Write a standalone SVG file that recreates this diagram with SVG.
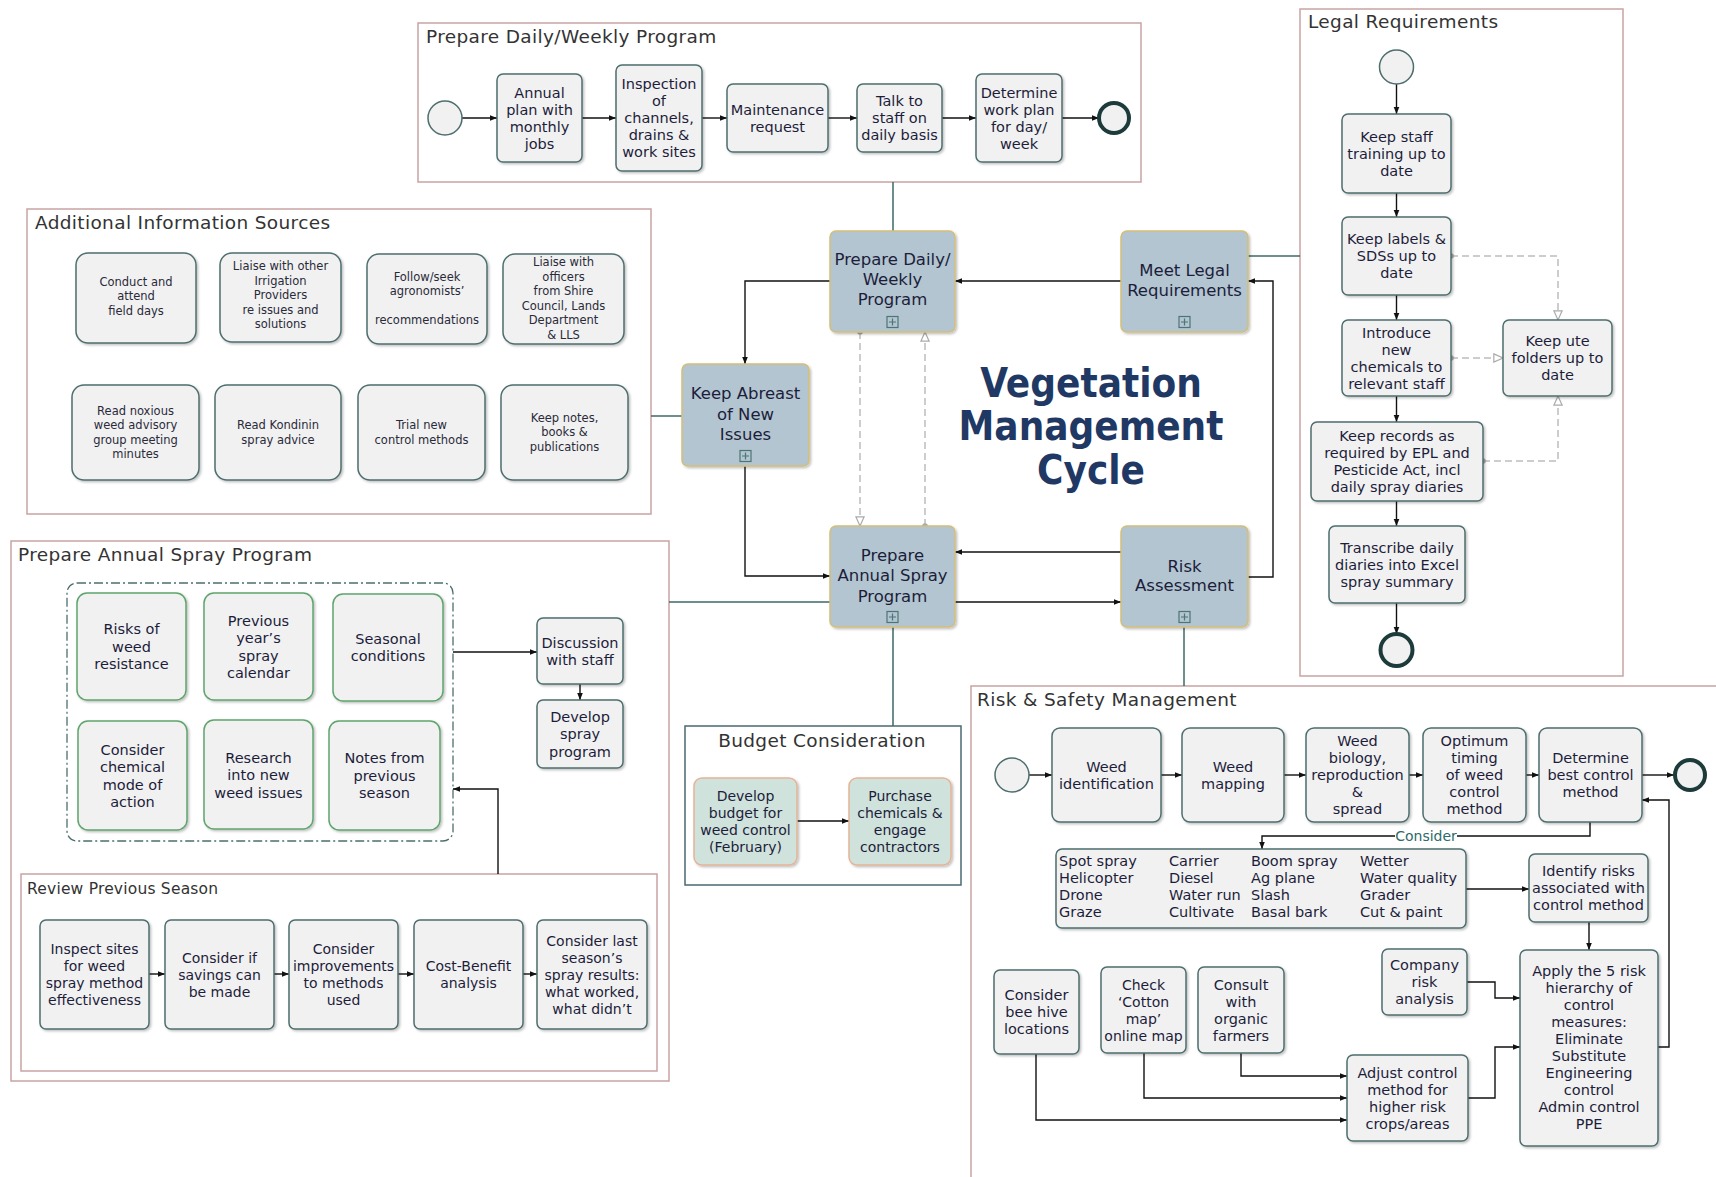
<svg xmlns="http://www.w3.org/2000/svg" width="1716" height="1177" viewBox="0 0 1716 1177">
<style>
.pool{fill:#fff;stroke:#c9a3a3;stroke-width:1.5}
.task{fill:#f1f1f1;stroke:#4e6e6e;stroke-width:1.5;filter:url(#sh)}
.green{fill:#f1f1f1;stroke:#5fa46c;stroke-width:1.5;filter:url(#sh)}
.main{fill:#b2c5d0;stroke:#d4be78;stroke-width:1.5;filter:url(#sh)}
.bud{fill:#d0e2dc;stroke:#e5b497;stroke-width:1.5;filter:url(#sh)}
.start{fill:#f1f1f1;stroke:#4e6e6e;stroke-width:1.5}
.end{fill:#f1f1f1;stroke:#1d3b3b;stroke-width:4}
.plus{fill:none;stroke:#4e7575;stroke-width:1.2}
text{font-family:"DejaVu Sans","Liberation Sans",sans-serif;fill:#1d1d3b}
.t{font-size:14.5px;text-anchor:middle}
.t14{font-size:14px;text-anchor:middle}
.s{font-size:11.5px;text-anchor:middle;fill:#2a2a3a}
.c{font-size:16.5px;text-anchor:middle}
.l{font-size:14.5px;text-anchor:start}
.pt{font-size:18.5px;letter-spacing:0.35px;fill:#333}
.flow{stroke:#111;stroke-width:1.4;fill:none;marker-end:url(#ah)}
.assoc{stroke:#3d6868;stroke-width:1.5;fill:none}
.dash{stroke:#bdbdbd;stroke-width:1.5;stroke-dasharray:7 4;fill:none;marker-start:url(#dot);marker-end:url(#ho)}
.title{font-family:"DejaVu Sans Condensed","DejaVu Sans",sans-serif;font-weight:bold;font-size:40px;fill:#1f3864;text-anchor:middle}
</style>
<defs>
<filter id="sh" x="-10%" y="-10%" width="125%" height="125%"><feDropShadow dx="1.5" dy="1.5" stdDeviation="1.2" flood-color="#000" flood-opacity="0.25"/></filter>
<marker id="ah" viewBox="0 0 10 10" refX="10" refY="5" markerWidth="7" markerHeight="7" orient="auto" markerUnits="userSpaceOnUse"><path d="M0,1 L10,5 L0,9 z" fill="#111"/></marker>
<marker id="ho" viewBox="0 0 12 12" refX="11" refY="6" markerWidth="11" markerHeight="11" orient="auto" markerUnits="userSpaceOnUse"><path d="M1,1.5 L11,6 L1,10.5 z" fill="#fff" stroke="#aaa" stroke-width="1.3"/></marker>
<marker id="dot" viewBox="0 0 10 10" refX="5" refY="5" markerWidth="7" markerHeight="7" markerUnits="userSpaceOnUse"><circle cx="5" cy="5" r="4" fill="#aaa"/></marker>
</defs>
<rect width="1716" height="1177" fill="#fff"/>

<!-- pools -->
<g id="pool-daily"><rect class="pool" x="418" y="23" width="723" height="159"/><text class="pt" x="426" y="43">Prepare Daily/Weekly Program</text></g>
<g id="pool-legal"><rect class="pool" x="1300" y="9" width="323" height="667"/><text class="pt" x="1308" y="28">Legal Requirements</text></g>
<g id="pool-info"><rect class="pool" x="27" y="209" width="624" height="305"/><text class="pt" x="35" y="229">Additional Information Sources</text></g>
<g id="pool-annual"><rect class="pool" x="11" y="541" width="658" height="540"/><text class="pt" x="18" y="561">Prepare Annual Spray Program</text>
<rect x="67" y="583" width="386" height="258" rx="10" fill="none" stroke="#4e6e6e" stroke-width="1.3" stroke-dasharray="9 3 2 3"/></g>
<g id="pool-review"><rect class="pool" x="21" y="874" width="636" height="197"/><text class="pt" x="27" y="894" style="font-size:15.5px;letter-spacing:0.2px">Review Previous Season</text></g>
<g id="pool-budget"><rect x="685" y="726" width="276" height="159" fill="#fff" stroke="#4a6a70" stroke-width="1.5"/><text class="pt" x="822" y="747" text-anchor="middle">Budget Consideration</text></g>
<g id="pool-risk"><rect class="pool" x="971" y="686" width="770" height="520"/><text class="pt" x="977" y="706">Risk &amp; Safety Management</text></g>

<!-- connectors -->
<g id="connectors">
<path class="flow" d="M462 118H497"/><path class="flow" d="M582 118H616"/><path class="flow" d="M702 118H727"/><path class="flow" d="M828 118H857"/><path class="flow" d="M942 118H976"/><path class="flow" d="M1062 118H1099"/>
<path class="flow" d="M1396.5 84V114"/><path class="flow" d="M1396.5 193V217"/><path class="flow" d="M1396.5 295V320"/><path class="flow" d="M1396.5 396V422"/><path class="flow" d="M1396.5 501V526"/><path class="flow" d="M1396.5 603V634"/>
<path class="dash" d="M1451 256H1558V320"/><path class="dash" d="M1451 358H1503"/><path class="dash" d="M1483 461H1558V396"/>
<path class="flow" d="M1121 281H955"/>
<path class="flow" d="M1248 577H1273V281H1248"/>
<path class="flow" d="M830 281H745V364"/>
<path class="flow" d="M745 466V576H830"/>
<path class="flow" d="M1121 552H955"/>
<path class="flow" d="M955 602H1121"/>
<path class="dash" d="M860 332V526"/><path class="dash" d="M925 526V332"/>
<path class="assoc" d="M893 182V231"/><path class="assoc" d="M651 416H682"/><path class="assoc" d="M1300 256H1248"/><path class="assoc" d="M669 602H830"/><path class="assoc" d="M893 627V726"/><path class="assoc" d="M1184 627V686"/>
<path class="flow" d="M453 652H537"/><path class="flow" d="M580 684V700"/><path class="flow" d="M498 874V789H453"/>
<path class="flow" d="M149 974H165"/><path class="flow" d="M274 974H289"/><path class="flow" d="M398 974H414"/><path class="flow" d="M523 974H537"/>
<path class="flow" d="M797 821H849"/>
<path class="flow" d="M1029 775H1052"/><path class="flow" d="M1161 775H1182"/><path class="flow" d="M1284 775H1306"/><path class="flow" d="M1409 775H1423"/><path class="flow" d="M1526 775H1539"/><path class="flow" d="M1642 775H1674"/>
<path class="flow" d="M1590 822V836H1262V849"/>
<rect x="1395" y="828" width="62" height="16" fill="#fff"/><text x="1426" y="841" class="t14" style="fill:#2d6a6a">Consider</text>
<path class="flow" d="M1466 889H1529"/><path class="flow" d="M1589 922V950"/>
<path class="flow" d="M1658 1047H1669V800H1642"/>
<path class="flow" d="M1467 982H1495V998H1520"/>
<path class="flow" d="M1241 1053V1076H1347"/><path class="flow" d="M1144 1053V1098H1347"/><path class="flow" d="M1036 1054V1120H1347"/>
<path class="flow" d="M1468 1098H1495V1047H1520"/>
</g>

<!-- daily/weekly nodes -->
<g id="d-start"><circle class="start" cx="445" cy="118" r="17"/></g>
<g id="d-annual"><rect class="task" x="497" y="74" width="85" height="88" rx="6"/><text class="t"><tspan x="539.5" y="98">Annual</tspan><tspan x="539.5" y="115">plan with</tspan><tspan x="539.5" y="132">monthly</tspan><tspan x="539.5" y="149">jobs</tspan></text></g>
<g id="d-inspect"><rect class="task" x="616" y="65" width="86" height="106" rx="6"/><text class="t"><tspan x="659" y="89">Inspection</tspan><tspan x="659" y="106">of</tspan><tspan x="659" y="123">channels,</tspan><tspan x="659" y="140">drains &amp;</tspan><tspan x="659" y="157">work sites</tspan></text></g>
<g id="d-maint"><rect class="task" x="727" y="84" width="101" height="68" rx="6"/><text class="t"><tspan x="777.5" y="115">Maintenance</tspan><tspan x="777.5" y="132">request</tspan></text></g>
<g id="d-talk"><rect class="task" x="857" y="84" width="85" height="68" rx="6"/><text class="t"><tspan x="899.5" y="106">Talk to</tspan><tspan x="899.5" y="123">staff on</tspan><tspan x="899.5" y="140">daily basis</tspan></text></g>
<g id="d-determine"><rect class="task" x="976" y="74" width="86" height="88" rx="6"/><text class="t"><tspan x="1019" y="98">Determine</tspan><tspan x="1019" y="115">work plan</tspan><tspan x="1019" y="132">for day/</tspan><tspan x="1019" y="149">week</tspan></text></g>
<g id="d-end"><circle class="end" cx="1114" cy="118" r="15"/></g>

<!-- legal nodes -->
<g id="l-start"><circle class="start" cx="1396.5" cy="67" r="17"/></g>
<g id="l-training"><rect class="task" x="1342" y="114" width="109" height="79" rx="6"/><text class="t"><tspan x="1396.5" y="142">Keep staff</tspan><tspan x="1396.5" y="159">training up to</tspan><tspan x="1396.5" y="176">date</tspan></text></g>
<g id="l-labels"><rect class="task" x="1342" y="217" width="109" height="78" rx="6"/><text class="t"><tspan x="1396.5" y="244">Keep labels &amp;</tspan><tspan x="1396.5" y="261">SDSs up to</tspan><tspan x="1396.5" y="278">date</tspan></text></g>
<g id="l-introduce"><rect class="task" x="1342" y="320" width="109" height="76" rx="6"/><text class="t"><tspan x="1396.5" y="338">Introduce</tspan><tspan x="1396.5" y="355">new</tspan><tspan x="1396.5" y="372">chemicals to</tspan><tspan x="1396.5" y="389">relevant staff</tspan></text></g>
<g id="l-ute"><rect class="task" x="1503" y="320" width="109" height="76" rx="6"/><text class="t"><tspan x="1557.5" y="346">Keep ute</tspan><tspan x="1557.5" y="363">folders up to</tspan><tspan x="1557.5" y="380">date</tspan></text></g>
<g id="l-records"><rect class="task" x="1311" y="422" width="172" height="79" rx="6"/><text class="t"><tspan x="1397" y="441">Keep records as</tspan><tspan x="1397" y="458">required by EPL and</tspan><tspan x="1397" y="475">Pesticide Act, incl</tspan><tspan x="1397" y="492">daily spray diaries</tspan></text></g>
<g id="l-transcribe"><rect class="task" x="1329" y="526" width="136" height="77" rx="6"/><text class="t"><tspan x="1397" y="553">Transcribe daily</tspan><tspan x="1397" y="570">diaries into Excel</tspan><tspan x="1397" y="587">spray summary</tspan></text></g>
<g id="l-end"><circle class="end" cx="1396.5" cy="650" r="16"/></g>

<!-- additional info nodes -->
<g id="i-field"><rect class="task" x="76" y="253" width="120" height="90" rx="12"/><text class="s"><tspan x="136" y="285.5">Conduct and</tspan><tspan x="136" y="300">attend</tspan><tspan x="136" y="314.5">field days</tspan></text></g>
<g id="i-irrig"><rect class="task" x="220" y="253" width="121" height="89" rx="12"/><text class="s"><tspan x="280.5" y="270">Liaise with other</tspan><tspan x="280.5" y="284.5">Irrigation</tspan><tspan x="280.5" y="299">Providers</tspan><tspan x="280.5" y="313.5">re issues and</tspan><tspan x="280.5" y="328">solutions</tspan></text></g>
<g id="i-agro"><rect class="task" x="367" y="254" width="120" height="90" rx="12"/><text class="s"><tspan x="427" y="280.5">Follow/seek</tspan><tspan x="427" y="295">agronomists’</tspan><tspan x="427" y="324">recommendations</tspan></text></g>
<g id="i-shire"><rect class="task" x="503" y="254" width="121" height="90" rx="12"/><text class="s"><tspan x="563.5" y="266">Liaise with</tspan><tspan x="563.5" y="280.5">officers</tspan><tspan x="563.5" y="295">from Shire</tspan><tspan x="563.5" y="309.5">Council, Lands</tspan><tspan x="563.5" y="324">Department</tspan><tspan x="563.5" y="338.5">&amp; LLS</tspan></text></g>
<g id="i-noxious"><rect class="task" x="72" y="385" width="127" height="95" rx="12"/><text class="s"><tspan x="135.5" y="414.5">Read noxious</tspan><tspan x="135.5" y="429">weed advisory</tspan><tspan x="135.5" y="443.5">group meeting</tspan><tspan x="135.5" y="458">minutes</tspan></text></g>
<g id="i-kondinin"><rect class="task" x="215" y="385" width="126" height="95" rx="12"/><text class="s"><tspan x="278" y="429">Read Kondinin</tspan><tspan x="278" y="443.5">spray advice</tspan></text></g>
<g id="i-trial"><rect class="task" x="358" y="385" width="127" height="95" rx="12"/><text class="s"><tspan x="421.5" y="429">Trial new</tspan><tspan x="421.5" y="443.5">control methods</tspan></text></g>
<g id="i-notes"><rect class="task" x="501" y="385" width="127" height="95" rx="12"/><text class="s"><tspan x="564.5" y="421.5">Keep notes,</tspan><tspan x="564.5" y="436">books &amp;</tspan><tspan x="564.5" y="450.5">publications</tspan></text></g>

<!-- central cycle nodes -->
<g id="c-daily"><rect class="main" x="830" y="231" width="125" height="101" rx="6"/><text class="c"><tspan x="892.5" y="265">Prepare Daily/</tspan><tspan x="892.5" y="285">Weekly</tspan><tspan x="892.5" y="305">Program</tspan></text><rect class="plus" x="887" y="316.5" width="11" height="11"/><path class="plus" d="M892.5 318.5v7M889 322h7"/></g>
<g id="c-legal"><rect class="main" x="1121" y="231" width="127" height="101" rx="6"/><text class="c"><tspan x="1184.5" y="276">Meet Legal</tspan><tspan x="1184.5" y="296">Requirements</tspan></text><rect class="plus" x="1179" y="316.5" width="11" height="11"/><path class="plus" d="M1184.5 318.5v7M1181 322h7"/></g>
<g id="c-abreast"><rect class="main" x="682" y="364" width="127" height="102" rx="6"/><text class="c"><tspan x="745.5" y="399">Keep Abreast</tspan><tspan x="745.5" y="420">of New</tspan><tspan x="745.5" y="440">Issues</tspan></text><rect class="plus" x="740" y="450.5" width="11" height="11"/><path class="plus" d="M745.5 452.5v7M742 456h7"/></g>
<g id="c-annual"><rect class="main" x="830" y="526" width="125" height="101" rx="6"/><text class="c"><tspan x="892.5" y="561">Prepare</tspan><tspan x="892.5" y="581">Annual Spray</tspan><tspan x="892.5" y="602">Program</tspan></text><rect class="plus" x="887" y="611.5" width="11" height="11"/><path class="plus" d="M892.5 613.5v7M889 617h7"/></g>
<g id="c-risk"><rect class="main" x="1121" y="526" width="127" height="101" rx="6"/><text class="c"><tspan x="1184.5" y="572">Risk</tspan><tspan x="1184.5" y="591">Assessment</tspan></text><rect class="plus" x="1179" y="611.5" width="11" height="11"/><path class="plus" d="M1184.5 613.5v7M1181 617h7"/></g>
<g id="title"><text class="title"><tspan x="1091" y="397">Vegetation</tspan><tspan x="1091" y="440">Management</tspan><tspan x="1091" y="484">Cycle</tspan></text></g>

<!-- annual spray nodes -->
<g id="a-risks"><rect class="green" x="77" y="593" width="109" height="107" rx="10"/><text class="t"><tspan x="131.5" y="634">Risks of</tspan><tspan x="131.5" y="651.5">weed</tspan><tspan x="131.5" y="669">resistance</tspan></text></g>
<g id="a-previous"><rect class="green" x="204" y="593" width="109" height="107" rx="10"/><text class="t"><tspan x="258.5" y="625.5">Previous</tspan><tspan x="258.5" y="643">year’s</tspan><tspan x="258.5" y="660.5">spray</tspan><tspan x="258.5" y="678">calendar</tspan></text></g>
<g id="a-seasonal"><rect class="green" x="333" y="594" width="110" height="107" rx="10"/><text class="t"><tspan x="388" y="643.5">Seasonal</tspan><tspan x="388" y="661">conditions</tspan></text></g>
<g id="a-chemical"><rect class="green" x="78" y="721" width="109" height="109" rx="10"/><text class="t"><tspan x="132.5" y="754.5">Consider</tspan><tspan x="132.5" y="772">chemical</tspan><tspan x="132.5" y="789.5">mode of</tspan><tspan x="132.5" y="807">action</tspan></text></g>
<g id="a-research"><rect class="green" x="204" y="720" width="109" height="109" rx="10"/><text class="t"><tspan x="258.5" y="762.5">Research</tspan><tspan x="258.5" y="780">into new</tspan><tspan x="258.5" y="797.5">weed issues</tspan></text></g>
<g id="a-notes"><rect class="green" x="329" y="721" width="111" height="109" rx="10"/><text class="t"><tspan x="384.5" y="763">Notes from</tspan><tspan x="384.5" y="780.5">previous</tspan><tspan x="384.5" y="798">season</tspan></text></g>
<g id="a-discussion"><rect class="task" x="537" y="618" width="86" height="66" rx="6"/><text class="t"><tspan x="580" y="647.5">Discussion</tspan><tspan x="580" y="665">with staff</tspan></text></g>
<g id="a-develop"><rect class="task" x="537" y="700" width="86" height="68" rx="6"/><text class="t"><tspan x="580" y="721.5">Develop</tspan><tspan x="580" y="739">spray</tspan><tspan x="580" y="756.5">program</tspan></text></g>

<!-- review nodes -->
<g id="r-inspect"><rect class="task" x="40" y="920" width="109" height="109" rx="6"/><text class="t14"><tspan x="94.5" y="954">Inspect sites</tspan><tspan x="94.5" y="971">for weed</tspan><tspan x="94.5" y="988">spray method</tspan><tspan x="94.5" y="1005">effectiveness</tspan></text></g>
<g id="r-savings"><rect class="task" x="165" y="920" width="109" height="109" rx="6"/><text class="t14"><tspan x="219.5" y="962.5">Consider if</tspan><tspan x="219.5" y="979.5">savings can</tspan><tspan x="219.5" y="996.5">be made</tspan></text></g>
<g id="r-improve"><rect class="task" x="289" y="920" width="109" height="109" rx="6"/><text class="t14"><tspan x="343.5" y="954">Consider</tspan><tspan x="343.5" y="971">improvements</tspan><tspan x="343.5" y="988">to methods</tspan><tspan x="343.5" y="1005">used</tspan></text></g>
<g id="r-cost"><rect class="task" x="414" y="920" width="109" height="109" rx="6"/><text class="t14"><tspan x="468.5" y="971">Cost-Benefit</tspan><tspan x="468.5" y="988">analysis</tspan></text></g>
<g id="r-last"><rect class="task" x="537" y="920" width="110" height="109" rx="6"/><text class="t14"><tspan x="592" y="945.5">Consider last</tspan><tspan x="592" y="962.5">season’s</tspan><tspan x="592" y="979.5">spray results:</tspan><tspan x="592" y="996.5">what worked,</tspan><tspan x="592" y="1013.5">what didn’t</tspan></text></g>

<!-- budget nodes -->
<g id="b-develop"><rect class="bud" x="694" y="778" width="103" height="87" rx="8"/><text class="t14"><tspan x="745.5" y="801">Develop</tspan><tspan x="745.5" y="818">budget for</tspan><tspan x="745.5" y="835">weed control</tspan><tspan x="745.5" y="852">(February)</tspan></text></g>
<g id="b-purchase"><rect class="bud" x="849" y="778" width="102" height="87" rx="8"/><text class="t14"><tspan x="900" y="801">Purchase</tspan><tspan x="900" y="818">chemicals &amp;</tspan><tspan x="900" y="835">engage</tspan><tspan x="900" y="852">contractors</tspan></text></g>

<!-- risk & safety nodes -->
<g id="s-start"><circle class="start" cx="1012" cy="775" r="17"/></g>
<g id="s-ident"><rect class="task" x="1052" y="728" width="109" height="94" rx="8"/><text class="t"><tspan x="1106.5" y="772">Weed</tspan><tspan x="1106.5" y="789">identification</tspan></text></g>
<g id="s-mapping"><rect class="task" x="1182" y="728" width="102" height="94" rx="8"/><text class="t"><tspan x="1233" y="772">Weed</tspan><tspan x="1233" y="789">mapping</tspan></text></g>
<g id="s-biology"><rect class="task" x="1306" y="728" width="103" height="94" rx="8"/><text class="t"><tspan x="1357.5" y="746">Weed</tspan><tspan x="1357.5" y="763">biology,</tspan><tspan x="1357.5" y="780">reproduction</tspan><tspan x="1357.5" y="797">&amp;</tspan><tspan x="1357.5" y="814">spread</tspan></text></g>
<g id="s-timing"><rect class="task" x="1423" y="728" width="103" height="94" rx="8"/><text class="t"><tspan x="1474.5" y="746">Optimum</tspan><tspan x="1474.5" y="763">timing</tspan><tspan x="1474.5" y="780">of weed</tspan><tspan x="1474.5" y="797">control</tspan><tspan x="1474.5" y="814">method</tspan></text></g>
<g id="s-best"><rect class="task" x="1539" y="728" width="103" height="94" rx="8"/><text class="t"><tspan x="1590.5" y="763">Determine</tspan><tspan x="1590.5" y="780">best control</tspan><tspan x="1590.5" y="797">method</tspan></text></g>
<g id="s-end"><circle class="end" cx="1690" cy="775" r="15"/></g>
<g id="s-methods"><rect class="task" x="1056" y="849" width="410" height="79" rx="6"/>
<text class="l"><tspan x="1059" y="866">Spot spray</tspan><tspan x="1059" y="883">Helicopter</tspan><tspan x="1059" y="900">Drone</tspan><tspan x="1059" y="917">Graze</tspan></text>
<text class="l"><tspan x="1169" y="866">Carrier</tspan><tspan x="1169" y="883">Diesel</tspan><tspan x="1169" y="900">Water run</tspan><tspan x="1169" y="917">Cultivate</tspan></text>
<text class="l"><tspan x="1251" y="866">Boom spray</tspan><tspan x="1251" y="883">Ag plane</tspan><tspan x="1251" y="900">Slash</tspan><tspan x="1251" y="917">Basal bark</tspan></text>
<text class="l"><tspan x="1360" y="866">Wetter</tspan><tspan x="1360" y="883">Water quality</tspan><tspan x="1360" y="900">Grader</tspan><tspan x="1360" y="917">Cut &amp; paint</tspan></text></g>
<g id="s-identify"><rect class="task" x="1529" y="854" width="119" height="68" rx="6"/><text class="t"><tspan x="1588.5" y="876">Identify risks</tspan><tspan x="1588.5" y="893">associated with</tspan><tspan x="1588.5" y="910">control method</tspan></text></g>
<g id="s-apply"><rect class="task" x="1520" y="950" width="138" height="196" rx="6"/><text class="t"><tspan x="1589" y="976">Apply the 5 risk</tspan><tspan x="1589" y="993">hierarchy of</tspan><tspan x="1589" y="1010">control</tspan><tspan x="1589" y="1027">measures:</tspan><tspan x="1589" y="1044">Eliminate</tspan><tspan x="1589" y="1061">Substitute</tspan><tspan x="1589" y="1078">Engineering</tspan><tspan x="1589" y="1095">control</tspan><tspan x="1589" y="1112">Admin control</tspan><tspan x="1589" y="1129">PPE</tspan></text></g>
<g id="s-company"><rect class="task" x="1382" y="949" width="85" height="66" rx="6"/><text class="t"><tspan x="1424.5" y="970">Company</tspan><tspan x="1424.5" y="987">risk</tspan><tspan x="1424.5" y="1004">analysis</tspan></text></g>
<g id="s-bee"><rect class="task" x="994" y="970" width="85" height="84" rx="6"/><text class="t"><tspan x="1036.5" y="1000">Consider</tspan><tspan x="1036.5" y="1017">bee hive</tspan><tspan x="1036.5" y="1034">locations</tspan></text></g>
<g id="s-cotton"><rect class="task" x="1101" y="967" width="85" height="86" rx="6"/><text class="t14"><tspan x="1143.5" y="990">Check</tspan><tspan x="1143.5" y="1007">‘Cotton</tspan><tspan x="1143.5" y="1024">map’</tspan><tspan x="1143.5" y="1041">online map</tspan></text></g>
<g id="s-organic"><rect class="task" x="1198" y="967" width="86" height="86" rx="6"/><text class="t"><tspan x="1241" y="990">Consult</tspan><tspan x="1241" y="1007">with</tspan><tspan x="1241" y="1024">organic</tspan><tspan x="1241" y="1041">farmers</tspan></text></g>
<g id="s-adjust"><rect class="task" x="1347" y="1055" width="121" height="86" rx="6"/><text class="t"><tspan x="1407.5" y="1078">Adjust control</tspan><tspan x="1407.5" y="1095">method for</tspan><tspan x="1407.5" y="1112">higher risk</tspan><tspan x="1407.5" y="1129">crops/areas</tspan></text></g>
</svg>
